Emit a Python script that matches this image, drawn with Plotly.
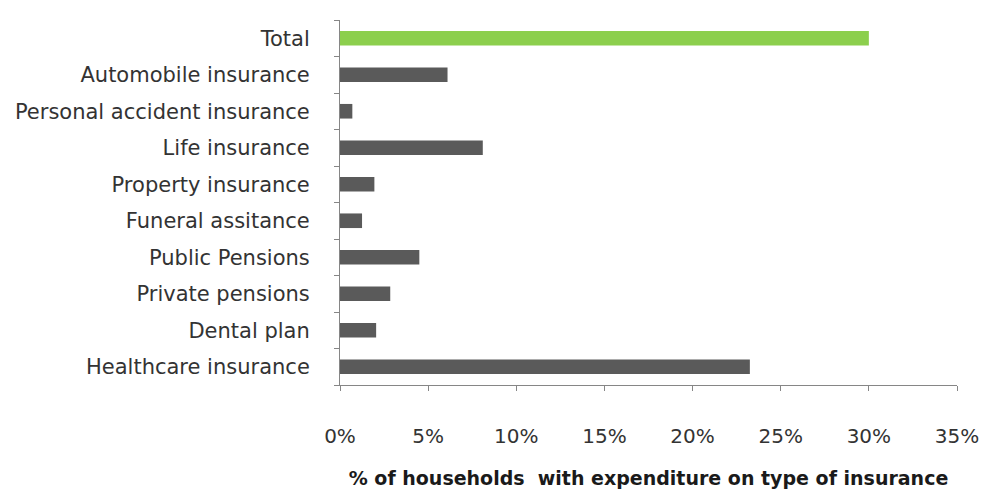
import plotly.graph_objects as go

# Share of households reporting spending on each insurance type (%)
categories = [
    "Total",
    "Automobile insurance",
    "Personal accident insurance",
    "Life insurance",
    "Property insurance",
    "Funeral assitance",
    "Public Pensions",
    "Private pensions",
    "Dental plan",
    "Healthcare insurance",
]
values = [30.0, 6.1, 0.7, 8.1, 1.95, 1.25, 4.5, 2.85, 2.05, 23.25]
x_ticks = [0, 5, 10, 15, 20, 25, 30, 35]
x_tick_labels = ["0%", "5%", "10%", "15%", "20%", "25%", "30%", "35%"]

bar_colors = ["#8ccf4d" if c == "Total" else "#5a5a5a" for c in categories]

fig = go.Figure(
    go.Bar(
        y=categories,
        x=values,
        orientation="h",
        marker=dict(color=bar_colors, line=dict(width=0)),
        width=0.4,
    )
)

font_family = "'DejaVu Sans', sans-serif"

fig.update_layout(
    width=984,
    height=493,
    margin=dict(l=340, r=27, t=20, b=108),
    paper_bgcolor="white",
    plot_bgcolor="white",
    showlegend=False,
    font=dict(family=font_family, size=21, color="#333333"),
)

fig.update_yaxes(
    categoryorder="array",
    categoryarray=categories[::-1],
    tickson="boundaries",
    ticks="outside",
    ticklen=5,
    tickcolor="#868686",
    showline=True,
    linecolor="#868686",
    linewidth=1,
    showgrid=False,
    automargin=False,
    ticklabelstandoff=25,
    tickfont=dict(size=21, color="#333333"),
)

fig.update_xaxes(
    range=[0, 35],
    tickvals=x_ticks,
    ticktext=x_tick_labels,
    ticks="outside",
    ticklen=5,
    tickcolor="#868686",
    showline=True,
    linecolor="#868686",
    linewidth=1,
    showgrid=False,
    zeroline=False,
    automargin=False,
    ticklabelstandoff=28,
    tickfont=dict(size=20, color="#333333"),
    title=dict(
        text="<b>% of households  with expenditure on type of insurance</b>",
        font=dict(size=19, color="#1a1a1a"),
        standoff=24,
    ),
)

fig.write_html("out.html")
